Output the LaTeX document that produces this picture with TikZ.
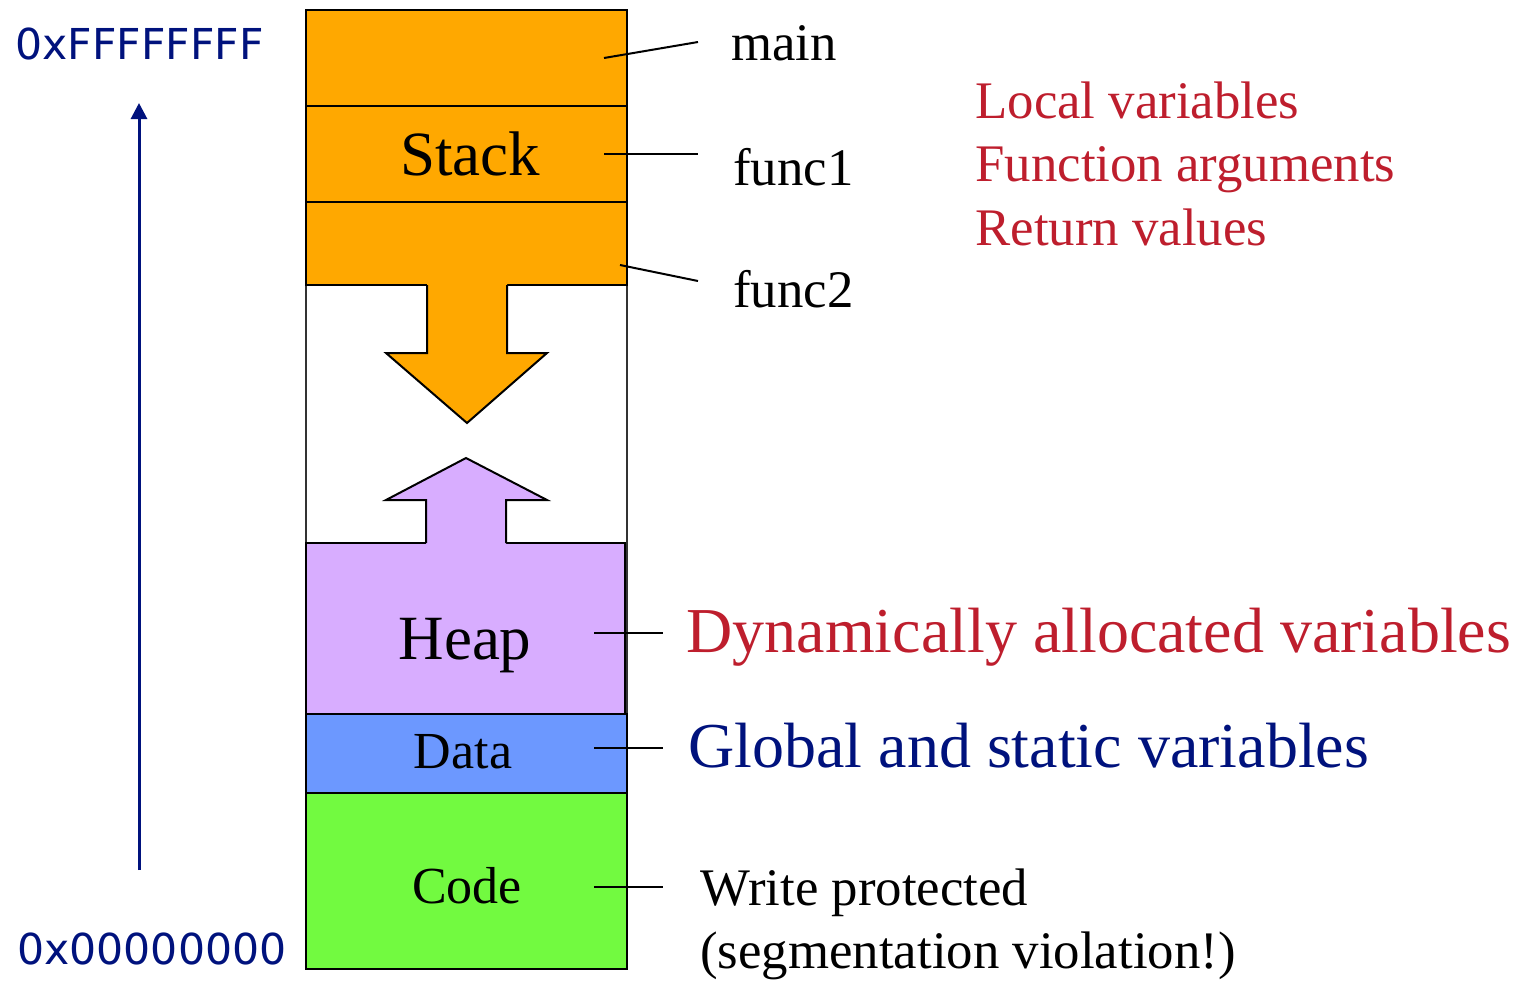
\documentclass[tikz,border=0pt]{standalone}
\usepackage{fontspec}
\setmainfont{Liberation Serif}
\newfontfamily\addrfont{DejaVu Sans}
\usetikzlibrary{arrows.meta}

\definecolor{stackorange}{RGB}{255,168,0}
\definecolor{heappurple}{RGB}{216,173,255}
\definecolor{datablue}{RGB}{108,152,255}
\definecolor{codegreen}{RGB}{114,250,64}
\definecolor{navy}{RGB}{0,18,125}
\definecolor{darkred}{RGB}{190,30,45}

\tikzset{
  segline/.style={draw=black, line width=1pt},
  leader/.style={draw=black, line width=1pt},
  seglabel/.style={inner sep=0pt, anchor=base, font=\fontsize{31.5pt}{36pt}\selectfont},
  smalllabel/.style={inner sep=0pt, anchor=base, font=\fontsize{26pt}{30pt}\selectfont},
  note/.style={inner sep=0pt, anchor=base west, font=\fontsize{26.4pt}{30pt}\selectfont},
  bignote/.style={inner sep=0pt, anchor=base west, font=\fontsize{32pt}{36pt}\selectfont},
  addr/.style={inner sep=0pt, anchor=base west, text=navy, font=\addrfont\fontsize{21.3pt}{25pt}\selectfont},
}

\begin{document}
\begin{tikzpicture}[x=0.5pt, y=-0.5pt]
\useasboundingbox (0,0) rectangle (1516,981);

% address-space column
\draw[line width=0.7pt, draw=black!80] (306,10) rectangle (627,969);

% stack frames
\filldraw[segline, fill=stackorange] (306,10) rectangle (627,106);
\filldraw[segline, fill=stackorange] (306,106) rectangle (627,202);
\filldraw[segline, fill=stackorange] (306,202) rectangle (627,285);

% heap, data and code segments
\filldraw[segline, fill=heappurple] (306,543) rectangle (625,714);
\filldraw[segline, fill=datablue] (306,714) rectangle (627,793);
\filldraw[segline, fill=codegreen] (306,793) rectangle (627,969);

% stack grows downwards
\fill[stackorange] (427,282) -- (427,353) -- (386,353) -- (467,423) -- (547,353) -- (507,353) -- (507,282) -- cycle;
\draw[line width=1pt, line join=miter] (427,285) -- (427,353) -- (386,353) -- (467,423) -- (547,353) -- (507,353) -- (507,285);

% heap grows upwards
\fill[heappurple] (426,546) -- (426,500) -- (386,500) -- (466,458) -- (547,500) -- (506,500) -- (506,546) -- cycle;
\draw[line width=1pt, line join=miter] (426,543) -- (426,500) -- (386,500) -- (466,458) -- (547,500) -- (506,500) -- (506,543);

% segment names
\node[seglabel] (stack) at (470,175) {Stack};
\node[seglabel] (heap) at (465,659) {Heap};
\node[smalllabel] (data) at (463,768) {Data};
\node[smalllabel] (code) at (467,903) {Code};

% frame labels
\node[note] (main) at (731,60) {main};
\node[note] (func1) at (733,185) {func1};
\node[note] (func2) at (733,307) {func2};

\coordinate (mainpt) at (604,58);
\coordinate (mainend) at (698,42);
\coordinate (func1pt) at (604,154);
\coordinate (func1end) at (698,154);
\coordinate (func2pt) at (620,265);
\coordinate (func2end) at (698,281);
\draw[leader] (mainpt) -- (mainend);
\draw[leader] (func1pt) -- (func1end);
\draw[leader] (func2pt) -- (func2end);

% stack contents
\node[note, text=darkred] (local) at (975,118) {Local variables};
\node[note, text=darkred] (fargs) at (975,181) {Function arguments};
\node[note, text=darkred] (retv) at (975,245) {Return values};

% segment descriptions
\node[bignote, text=darkred] (dyn) at (686,652) {Dynamically allocated variables};
\node[bignote, text=navy] (glob) at (688,767) {Global and static variables};
\node[note] (wp) at (700,905) {Write protected};
\node[note] (segv) at (700,968) {(segmentation violation!)};

\coordinate (heappt) at (594,633);
\coordinate (heapend) at (663,633);
\coordinate (datapt) at (594,748);
\coordinate (dataend) at (663,748);
\coordinate (codept) at (594,887);
\coordinate (codeend) at (663,887);
\draw[leader] (heappt) -- (heapend);
\draw[leader] (datapt) -- (dataend);
\draw[leader] (codept) -- (codeend);

% address range
\node[addr] (hi) at (15,59) {0xFFFFFFFF};
\node[addr] (lo) at (17,964) {0x00000000};
\coordinate (arrowbase) at (139,870);
\coordinate (arrowtip) at (139,103);
\draw[navy, line width=1.5pt, -{Triangle[length=8pt, width=8pt]}] (arrowbase) -- (arrowtip);
\end{tikzpicture}
\end{document}
